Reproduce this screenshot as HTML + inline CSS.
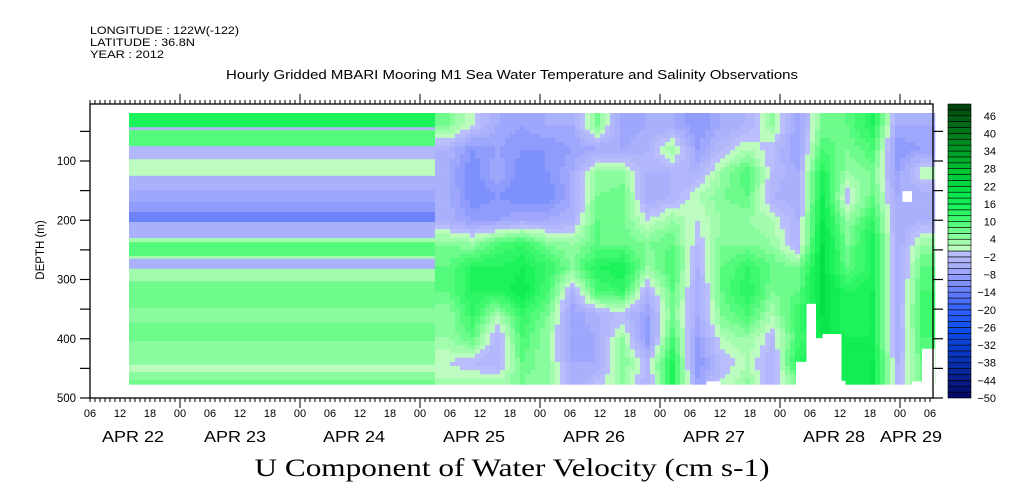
<!DOCTYPE html>
<html><head><meta charset="utf-8"><style>
html,body{margin:0;padding:0;background:#fff;}
svg{display:block;font-family:"Liberation Sans",sans-serif;}
</style></head><body>
<svg id="chart" width="1009" height="504" viewBox="0 0 1009 504" xmlns="http://www.w3.org/2000/svg">
<g font-size="11" fill="#000">
<text x="90" y="34" textLength="149" lengthAdjust="spacingAndGlyphs">LONGITUDE : 122W(-122)</text>
<text x="90" y="46" textLength="105" lengthAdjust="spacingAndGlyphs">LATITUDE : 36.8N</text>
<text x="90" y="58" textLength="74" lengthAdjust="spacingAndGlyphs">YEAR : 2012</text>
<text x="226" y="79" font-size="12.5" textLength="572" lengthAdjust="spacingAndGlyphs">Hourly Gridded MBARI Mooring M1 Sea Water Temperature and Salinity Observations</text>
</g>
<g id="plot"></g>
<g id="axes"></g>
<g id="cbar"></g>
<text transform="translate(44,250) rotate(-90)" text-anchor="middle" font-size="11.5">DEPTH (m)</text>
<text x="512" y="476" text-anchor="middle" font-family="'Liberation Serif',serif" font-size="25" textLength="515" lengthAdjust="spacingAndGlyphs">U Component of Water Velocity (cm s-1)</text>
</svg>
<script>
// hours since Apr 22 00:00
var stripeDepths = [19,43,48,75,97,125,149,169,186,203,230,237,260,265,282,303,348,373,404,444,456,470];
var stripeValues = [14,-3,8,-3,1,-6,-8,-10,-14,-5,2,8,2,-5,3,6,4,6,4,1,4,6];
var stripeStart = 13.8, stripeEnd = 75, dataBottom = 477;
var gridHours = [77.5,82.5,87.5,92.5,97.5,102.5,107.5,112.5,117.5,122.5,127.5,132.5,137.5,142.5,147.5,152.5,157.5,162.5,167.5,172.5];
var gridDepths = [40,80,120,160,200,240,280,320,360,400,440,470];
var gridStart = 75, gridEnd = 175;
// rows = depth, columns = time
var uVel = [
[6,0,-6,-8,-6,-6,6,-8,-6,-6,-10,-6,-4,4,-8,6,8,14,-6,-6],
[-4,-10,-8,-10,-10,-8,-6,-6,-4,4,-8,-2,2,-2,-8,10,6,10,-10,-8],
[-6,-12,-6,-12,-10,-6,4,4,-4,-4,-4,4,10,-2,-6,14,4,6,-8,2],
[-5,-12,-10,-12,-12,-6,6,8,-6,-4,2,6,8,-4,-6,16,-2,8,-6,-6],
[-5,-8,-8,-6,-6,-4,8,6,0,4,0,4,4,2,-4,18,4,12,-6,-4],
[6,4,10,12,6,4,8,8,6,8,-2,6,6,4,-4,20,6,16,-6,4],
[8,14,14,16,12,6,14,16,4,10,-4,8,12,8,6,20,8,14,-6,8],
[8,14,14,18,10,-4,10,12,-4,8,-6,8,14,6,8,20,14,16,-6,10],
[4,12,2,12,6,-8,-4,-2,-8,6,-6,6,10,2,12,20,14,16,-4,10],
[4,8,-4,10,4,-8,-6,4,-10,10,-8,2,4,-2,10,18,16,16,-6,10],
[0,-2,-4,8,4,-6,-6,6,-2,14,-10,-2,2,-4,14,16,18,18,-4,8],
[2,2,2,6,4,-6,-2,4,-4,14,-8,0,4,-4,6,16,16,18,-4,6]
];
var gapStart = [147.2,149.3,151.2,152.5,156.3,129.3,170.4,172.4,168.5];
var gapEnd   = [149.3,151.2,152.5,156.3,157.1,132.1,172.4,175,170.4];
var gapTop   = [439,341,399,392,471,472,472,417,151];
var gapBottom= [480,480,480,480,480,480,480,480,169];
var cbLevels = [];
for (var l=-50;l<=50;l+=2) cbLevels.push(l);
var cbLabels = [-50,-44,-38,-32,-26,-20,-14,-8,-2,4,10,16,22,28,34,40,46];
var dayLabels = ['APR 22','APR 23','APR 24','APR 25','APR 26','APR 27','APR 28','APR 29'];
var dayCenters = [133,235,354,474,594,714,834,911];

var NS="http://www.w3.org/2000/svg";
function X(h){return 90+(h-6)*5;}
function Y(d){return 101.75+d*0.5925;}
function el(tag,attrs,parent){var e=document.createElementNS(NS,tag);for(var k in attrs)e.setAttribute(k,attrs[k]);parent.appendChild(e);return e;}
var gA=[[0,[200,252,200]],[4,[150,252,165]],[10,[70,250,115]],[16,[20,240,85]],[22,[0,220,65]],[28,[0,190,50]],[34,[0,155,40]],[40,[0,120,28]],[46,[0,90,18]],[50,[0,60,8]]];
var bA=[[0,[190,194,252]],[-6,[165,172,252]],[-10,[135,150,252]],[-14,[100,124,252]],[-20,[50,96,252]],[-26,[16,80,240]],[-32,[8,64,208]],[-38,[8,48,176]],[-44,[8,28,136]],[-50,[0,8,96]]];
function interp(a,v){for(var i=0;i<a.length-1;i++){var v0=a[i][0],v1=a[i+1][0];if((v-v0)*(v-v1)<=0){var t=(v-v0)/(v1-v0);var c=a[i][1].map(function(x,j){return Math.round(x+(a[i+1][1][j]-x)*t);});return 'rgb('+c.join(',')+')';}}return 'rgb('+a[a.length-1][1].join(',')+')';}
function color(v){var lv=Math.floor(v/2)*2; if(lv<-50)lv=-50; if(lv>48)lv=48; var mid=lv+1; return mid>0?interp(gA,mid):interp(bA,mid);}

var plot=document.getElementById('plot');
for (var i=0;i<stripeDepths.length;i++){
  var d0=stripeDepths[i], d1=(i+1<stripeDepths.length)?stripeDepths[i+1]:dataBottom;
  var r=el('rect',{x:X(stripeStart),y:Y(d0),width:X(stripeEnd)-X(stripeStart),height:Y(d1)-Y(d0)+0.3,fill:color(stripeValues[i])},plot);
  
  
}
function findIdx(arr,v){if(v<=arr[0])return[0,0,0];if(v>=arr[arr.length-1])return[arr.length-1,arr.length-1,0];for(var i=0;i<arr.length-1;i++)if(v>=arr[i]&&v<=arr[i+1])return[i,i+1,(v-arr[i])/(arr[i+1]-arr[i])];}
function val(h,d){var a=findIdx(gridHours,h),b=findIdx(gridDepths,d);var v00=uVel[b[0]][a[0]],v01=uVel[b[0]][a[1]],v10=uVel[b[1]][a[0]],v11=uVel[b[1]][a[1]];var top=v00+(v01-v00)*a[2],bot=v10+(v11-v10)*a[2];return top+(bot-top)*b[2];}
var dh=1, dd=7;
for (var h=gridStart; h<gridEnd-0.001; h+=dh){
  for (var d=19; d<dataBottom; d+=dd){
    var d2=Math.min(d+dd,dataBottom);
    var c=el('rect',{x:X(h),y:Y(d),width:X(h+dh)-X(h)+0.3,height:Y(d2)-Y(d)+0.3,fill:color(val(h+dh/2,(d+d2)/2))},plot);
    
    
  }
}
for (var g=0; g<gapStart.length; g++){
  var gr=el('rect',{x:X(gapStart[g]),y:Y(gapTop[g]),width:X(gapEnd[g])-X(gapStart[g]),height:Y(gapBottom[g])-Y(gapTop[g]),fill:'#fff'},plot);
  
  
}
var ax=document.getElementById('axes');
var L=90,R=933,T=104,B=398;
var fr=el('rect',{x:L,y:T,width:R-L,height:B-T,fill:'none',stroke:'#000','stroke-width':1.3},ax);


var yt=[50,100,150,200,250,300,350,400,450,500];
for (var i=0;i<yt.length;i++){
  var y=Y(yt[i]);
  el('line',{x1:L-10,x2:L,y1:y,y2:y,stroke:'#000','stroke-width':1.2},ax);
  el('line',{x1:R,x2:R+10,y1:y,y2:y,stroke:'#000','stroke-width':1.2},ax);
  if(yt[i]%100===0){var t=el('text',{x:L-14,y:y+4,'text-anchor':'end','font-size':11.5},ax);t.textContent=yt[i];
  
  }
}
for (var h=6; h<=175; h++){
  var x=X(h); if(x>R+0.5)break;
  var len=(h%24===0)?10:4;
  el('line',{x1:x,x2:x,y1:B,y2:B+len,stroke:'#000','stroke-width':1},ax);
  el('line',{x1:x,x2:x,y1:T,y2:T-len,stroke:'#000','stroke-width':1},ax);
  if(h%6===0){var t=el('text',{x:x,y:B+19,'text-anchor':'middle','font-size':11},ax);t.textContent=('0'+(h%24)).slice(-2);
  
  }
}
for (var i=0;i<dayLabels.length;i++){
  var t=el('text',{x:dayCenters[i],y:442,'text-anchor':'middle','font-size':16,textLength:62,lengthAdjust:'spacingAndGlyphs'},ax);t.textContent=dayLabels[i];
  
  
}
var cb=document.getElementById('cbar');
var cx=948,cw=23,cT=104,cB=398,n=cbLevels.length-1,bh=(cB-cT)/n;
function CY(v){return cB-(v+50)/100*(cB-cT);}
for (var i=0;i<n;i++){
  var r=el('rect',{x:cx,y:CY(cbLevels[i+1]),width:cw,height:bh,fill:color(cbLevels[i]+1),stroke:'#000','stroke-width':0.6},cb);
  
  
}
for (var i=0;i<cbLabels.length;i++){
  var t=el('text',{x:996,y:CY(cbLabels[i])+4,'text-anchor':'end','font-size':11},cb);
  t.textContent=cbLabels[i]<0?'\u2212'+(-cbLabels[i]):cbLabels[i];
  
  
}
</script>
</body></html>
